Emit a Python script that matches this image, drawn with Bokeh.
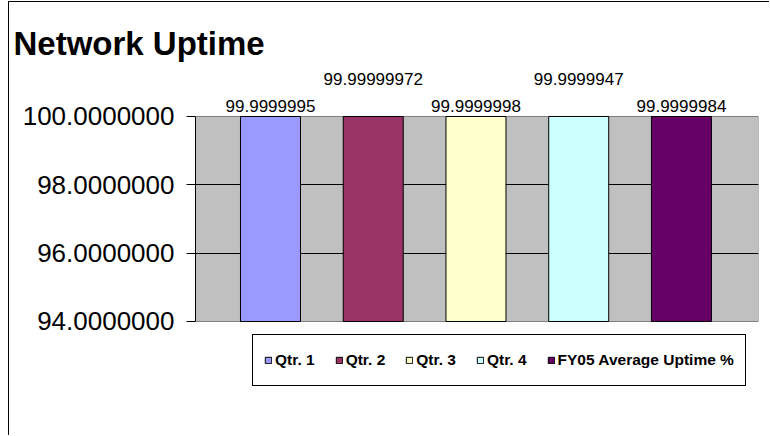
from bokeh.plotting import figure
from bokeh.models import (ColumnDataSource, Range1d, FixedTicker, NumeralTickFormatter,
                          BoxAnnotation, LabelSet)
from bokeh.core.properties import value
from bokeh.embed import file_html
from bokeh.resources import INLINE

# ---- data ----
categories = ["Qtr. 1", "Qtr. 2", "Qtr. 3", "Qtr. 4", "FY05 Average Uptime %"]
uptime = [99.9999995, 99.99999972, 99.9999998, 99.9999947, 99.9999984]
value_labels = ["99.9999995", "99.99999972", "99.9999998", "99.9999947", "99.9999984"]
y_ticks = [94, 96, 98, 100]

# ---- styles ----
colors = ["#9999FF", "#993366", "#FFFFCC", "#CCFFFF", "#660066"]
label_offsets = [4, 31, 4, 31, 4]
FONT = "Liberation Sans"

src = ColumnDataSource(dict(
    x=[i + 1 for i in range(len(categories))],
    cat=categories,
    top=uptime,
    lab=value_labels,
    color=colors,
    off=label_offsets,
))

p = figure(width=761, height=434, output_backend="svg", toolbar_location=None,
           x_axis_location=None,
           x_range=Range1d(0.27, 5.75), y_range=Range1d(91.6878, 101.4634),
           min_border_left=186, min_border_right=12, min_border_top=64,
           min_border_bottom=36)
p.styles = {"margin-left": "9px", "margin-top": "2px",
            "box-shadow": "-1px -1px 0 0 #000000"}
p.background_fill_color = "white"
p.border_fill_color = "white"
p.outline_line_color = None

# plot-area gray background (94..100)
box = BoxAnnotation(bottom=y_ticks[0], top=y_ticks[-1], fill_color="#C0C0C0", fill_alpha=1,
                    line_color="#808080", line_width=1, line_alpha=1, level="underlay")
p.center = [box] + list(p.center)

p.xgrid.visible = False
p.ygrid.ticker = FixedTicker(ticks=y_ticks[1:-1])
p.ygrid.grid_line_color = "black"
p.ygrid.grid_line_width = 1

ax = p.yaxis[0]
ax.ticker = FixedTicker(ticks=y_ticks)
ax.bounds = (y_ticks[0], y_ticks[-1])
ax.formatter = NumeralTickFormatter(format="0.0000000")
ax.axis_line_color = "black"
ax.major_tick_line_color = "black"
ax.major_tick_out = 9
ax.major_tick_in = 0
ax.minor_tick_line_color = None
ax.major_label_text_font = FONT
ax.major_label_text_font_size = "26px"
ax.major_label_text_color = "black"
ax.major_label_standoff = 12

p.vbar(x="x", width=0.584, bottom=y_ticks[0], top="top", source=src,
       fill_color="color", line_color="black", line_width=1, legend_field="cat")

labels = LabelSet(x="x", y="top", text="lab", source=src, y_offset="off",
                  text_align="center", text_baseline="alphabetic",
                  text_font=value(FONT), text_font_size=value("17px"), text_color="black")
p.add_layout(labels)

p.title.text = "Network Uptime"
p.title.text_font = FONT
p.title.text_font_size = "33px"
p.title.text_font_style = "bold"
p.title.text_color = "black"
p.title.align = "left"
p.title.offset = -182

lg = p.legend[0]
lg.orientation = "horizontal"
lg.location = (57, 14)
lg.border_line_color = "black"
lg.border_line_width = 1
lg.border_line_alpha = 1
lg.background_fill_color = "white"
lg.background_fill_alpha = 1
lg.label_text_font = FONT
lg.label_text_font_style = "bold"
lg.label_text_font_size = "15.5px"
lg.label_text_color = "black"
lg.glyph_width = 8
lg.glyph_height = 8
lg.label_standoff = 3
lg.spacing = 20
lg.padding = 11
lg.label_height = 28
lg.margin = 0

open("out.html", "w").write(file_html(p, INLINE))
